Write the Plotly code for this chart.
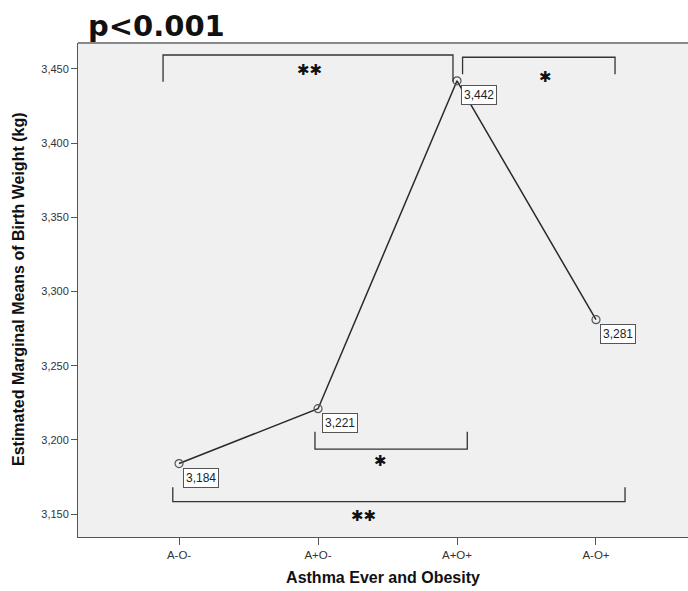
import plotly.graph_objects as go

categories = ["A-O-", "A+O-", "A+O+", "A-O+"]
means = [3184, 3221, 3442, 3281]
value_labels = ["3,184", "3,221", "3,442", "3,281"]
y_ticks = [3150, 3200, 3250, 3300, 3350, 3400, 3450]
y_tick_text = ["3,150", "3,200", "3,250", "3,300", "3,350", "3,400", "3,450"]

# significance brackets: (x_start, x_end, y_bar, y_leg_end, label, label_x, label_y)
brackets = [
    (-0.115, 1.971, 3459.4, 3441.4, "✱✱", 0.94, 3449.3),
    (2.04, 3.137, 3457.9, 3446.4, "✱", 2.638, 3444.8),
    (0.978, 2.074, 3193.8, 3205.5, "✱", 1.446, 3185.7),
    (-0.045, 3.209, 3158.3, 3168.0, "✱✱", 1.326, 3148.9),
]

W, H = 688, 591
ml, mr, mt, mb = 78, 0, 43, 54
pw, ph = W - ml - mr, H - mt - mb

fig = go.Figure()
fig.add_trace(go.Scatter(
    x=list(range(len(categories))), y=means, mode="lines+markers",
    line=dict(color="#2a2a2a", width=1.5),
    marker=dict(symbol="circle-open", size=8, color="#555555", line=dict(width=1.2)),
    hoverinfo="skip", showlegend=False,
))

shapes = []
annotations = []
for (x0, x1, yb, yl, lab, lx, ly) in brackets:
    shapes.append(dict(type="path", xref="x", yref="y",
                       path=f"M {x0},{yl} L {x0},{yb} L {x1},{yb} L {x1},{yl}",
                       line=dict(color="#333333", width=1.3)))
    annotations.append(dict(x=lx, y=ly, xref="x", yref="y", text=lab, showarrow=False,
                            font=dict(family="DejaVu Sans", size=15, color="#111111")))

for i, (m, t) in enumerate(zip(means, value_labels)):
    annotations.append(dict(x=i, y=m, xref="x", yref="y", text=t, showarrow=False,
                            xanchor="left", yanchor="top", xshift=4, yshift=-4,
                            bgcolor="white", bordercolor="#555555", borderwidth=1, borderpad=2,
                            font=dict(family="Liberation Sans", size=12, color="#222222")))

# chart title
annotations.append(dict(x=(86 - ml) / pw, y=(H - mb - 7) / ph, xref="paper", yref="paper",
                        text="<b>p<0.001</b>", showarrow=False, xanchor="left", yanchor="top",
                        font=dict(family="DejaVu Sans", size=29, color="#111111")))

# y-axis title
annotations.append(dict(x=(18 - ml) / pw, y=(H - mb - 289) / ph, xref="paper", yref="paper",
                        text="<b>Estimated Marginal Means of Birth Weight (kg)</b>",
                        showarrow=False, xanchor="center", yanchor="middle", textangle=-90,
                        font=dict(family="Liberation Sans", size=16, color="#111111")))

# top border of plot frame
shapes.append(dict(type="line", xref="paper", yref="paper", x0=0, x1=1, y0=1, y1=1,
                   line=dict(color="#888888", width=2)))

fig.update_layout(
    width=W, height=H,
    margin=dict(l=ml, r=mr, t=mt, b=mb),
    paper_bgcolor="white", plot_bgcolor="#f0f0f0",
    font=dict(family="Liberation Sans", color="#333333"),
    shapes=shapes, annotations=annotations,
    xaxis=dict(
        type="linear", tickmode="array", tickvals=list(range(len(categories))), ticktext=categories,
        range=[-0.727, 3.662], showgrid=False, zeroline=False,
        showline=True, linecolor="#555555", linewidth=1,
        ticks="outside", ticklen=7, tickcolor="#555555",
        tickfont=dict(size=11.5, color="#333333"),
        title=dict(text="<b>Asthma Ever and Obesity</b>", font=dict(size=16, color="#111111"), standoff=12),
    ),
    yaxis=dict(
        tickmode="array", tickvals=y_ticks, ticktext=y_tick_text,
        range=[3134.5, 3467.5], showgrid=False, zeroline=False,
        showline=True, linecolor="#555555", linewidth=1,
        ticks="outside", ticklen=6, tickcolor="#555555",
        tickfont=dict(size=11, color="#333333"),
    ),
)

fig.write_html("out.html")
